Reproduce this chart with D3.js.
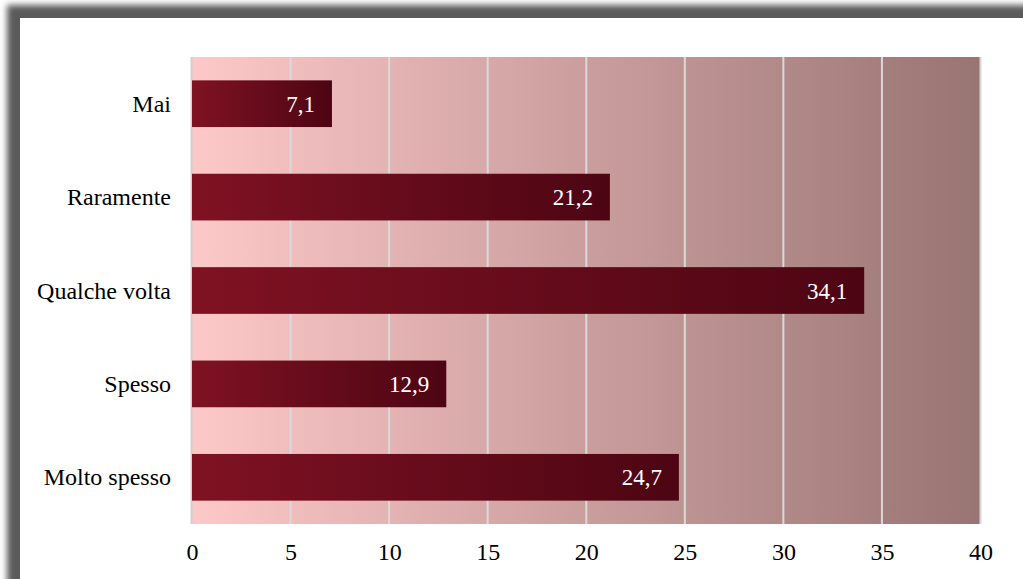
<!DOCTYPE html>
<html><head><meta charset="utf-8">
<script src="https://cdn.jsdelivr.net/npm/d3@7"></script>
<style>html,body{margin:0;padding:0;background:#fff;overflow:hidden}</style>
</head><body>
<svg id="c" width="1023" height="579"></svg>
<script>
const categories = ["Mai", "Raramente", "Qualche volta", "Spesso", "Molto spesso"];
const values = [7.1, 21.2, 34.1, 12.9, 24.7];
const ticks = [0, 5, 10, 15, 20, 25, 30, 35, 40];

const svg = d3.select("#c");
const defs = svg.append("defs");

// frame shadow
const f = defs.append("filter").attr("id","sh").attr("x","-5%").attr("y","-5%").attr("width","110%").attr("height","110%");
f.append("feGaussianBlur").attr("stdDeviation", 3);
svg.append("rect").attr("x", 7).attr("y", 5).attr("width", 1040).attr("height", 600)
  .attr("fill", "#5a5a5a").attr("filter", "url(#sh)");
svg.append("rect").attr("x", 20).attr("y", 18).attr("width", 1010).attr("height", 570).attr("fill", "#fff");

const bg = defs.append("linearGradient").attr("id","bg").attr("x1","0").attr("x2","1").attr("y1","0").attr("y2","0");
bg.append("stop").attr("offset","0").attr("stop-color","#fdc8c8");
bg.append("stop").attr("offset","1").attr("stop-color","#987473");
const bar = defs.append("linearGradient").attr("id","bar").attr("x1","0").attr("x2","1").attr("y1","0").attr("y2","0");
bar.append("stop").attr("offset","0").attr("stop-color","#7f1223");
bar.append("stop").attr("offset","1").attr("stop-color","#4d0513");

const L = 192, R = 980.5, T = 57, B = 524;
const x = d3.scaleLinear().domain([0, 40]).range([L, R]);
const y = d3.scaleBand().domain(categories).range([T, B]).paddingInner(0.5).paddingOuter(0.25);

svg.append("rect").attr("x", L).attr("y", T).attr("width", R - L).attr("height", B - T).attr("fill", "url(#bg)");

svg.append("g").selectAll("line").data(ticks.slice(1)).join("line")
  .attr("x1", d => x(d)).attr("x2", d => x(d)).attr("y1", T).attr("y2", B)
  .attr("stroke", "#d9d9d9").attr("stroke-width", 2);
svg.append("line").attr("x1", L - 0.5).attr("x2", L - 0.5).attr("y1", T).attr("y2", B)
  .attr("stroke", "#d0d0d0").attr("stroke-width", 2);

svg.append("g").selectAll("rect").data(values).join("rect")
  .attr("x", x(0)).attr("y", (d, i) => y(categories[i]))
  .attr("width", d => x(d) - x(0)).attr("height", y.bandwidth())
  .attr("fill", "url(#bar)");

const font = "'Liberation Serif', 'Times New Roman', serif";
svg.append("g").selectAll("text").data(values).join("text")
  .attr("x", d => x(d) - 17).attr("y", (d, i) => y(categories[i]) + y.bandwidth() / 2)
  .attr("dy", "0.35em").attr("text-anchor", "end")
  .attr("font-family", font).attr("font-size", 23).attr("fill", "#fff")
  .text(d => String(d).replace(".", ","));

const ya = d3.axisLeft(y).tickSize(0).tickPadding(21);
const gy = svg.append("g").attr("transform", `translate(${L},0.5)`).call(ya);
gy.select(".domain").remove();
gy.selectAll("text").attr("font-family", font).attr("font-size", 24).attr("fill", "#000");

const xa = d3.axisBottom(x).tickValues(ticks).tickSize(0).tickPadding(19);
const gx = svg.append("g").attr("transform", `translate(0,${B})`).call(xa);
gx.select(".domain").remove();
gx.selectAll("text").attr("font-family", font).attr("font-size", 24).attr("fill", "#000");
</script>
</body></html>
